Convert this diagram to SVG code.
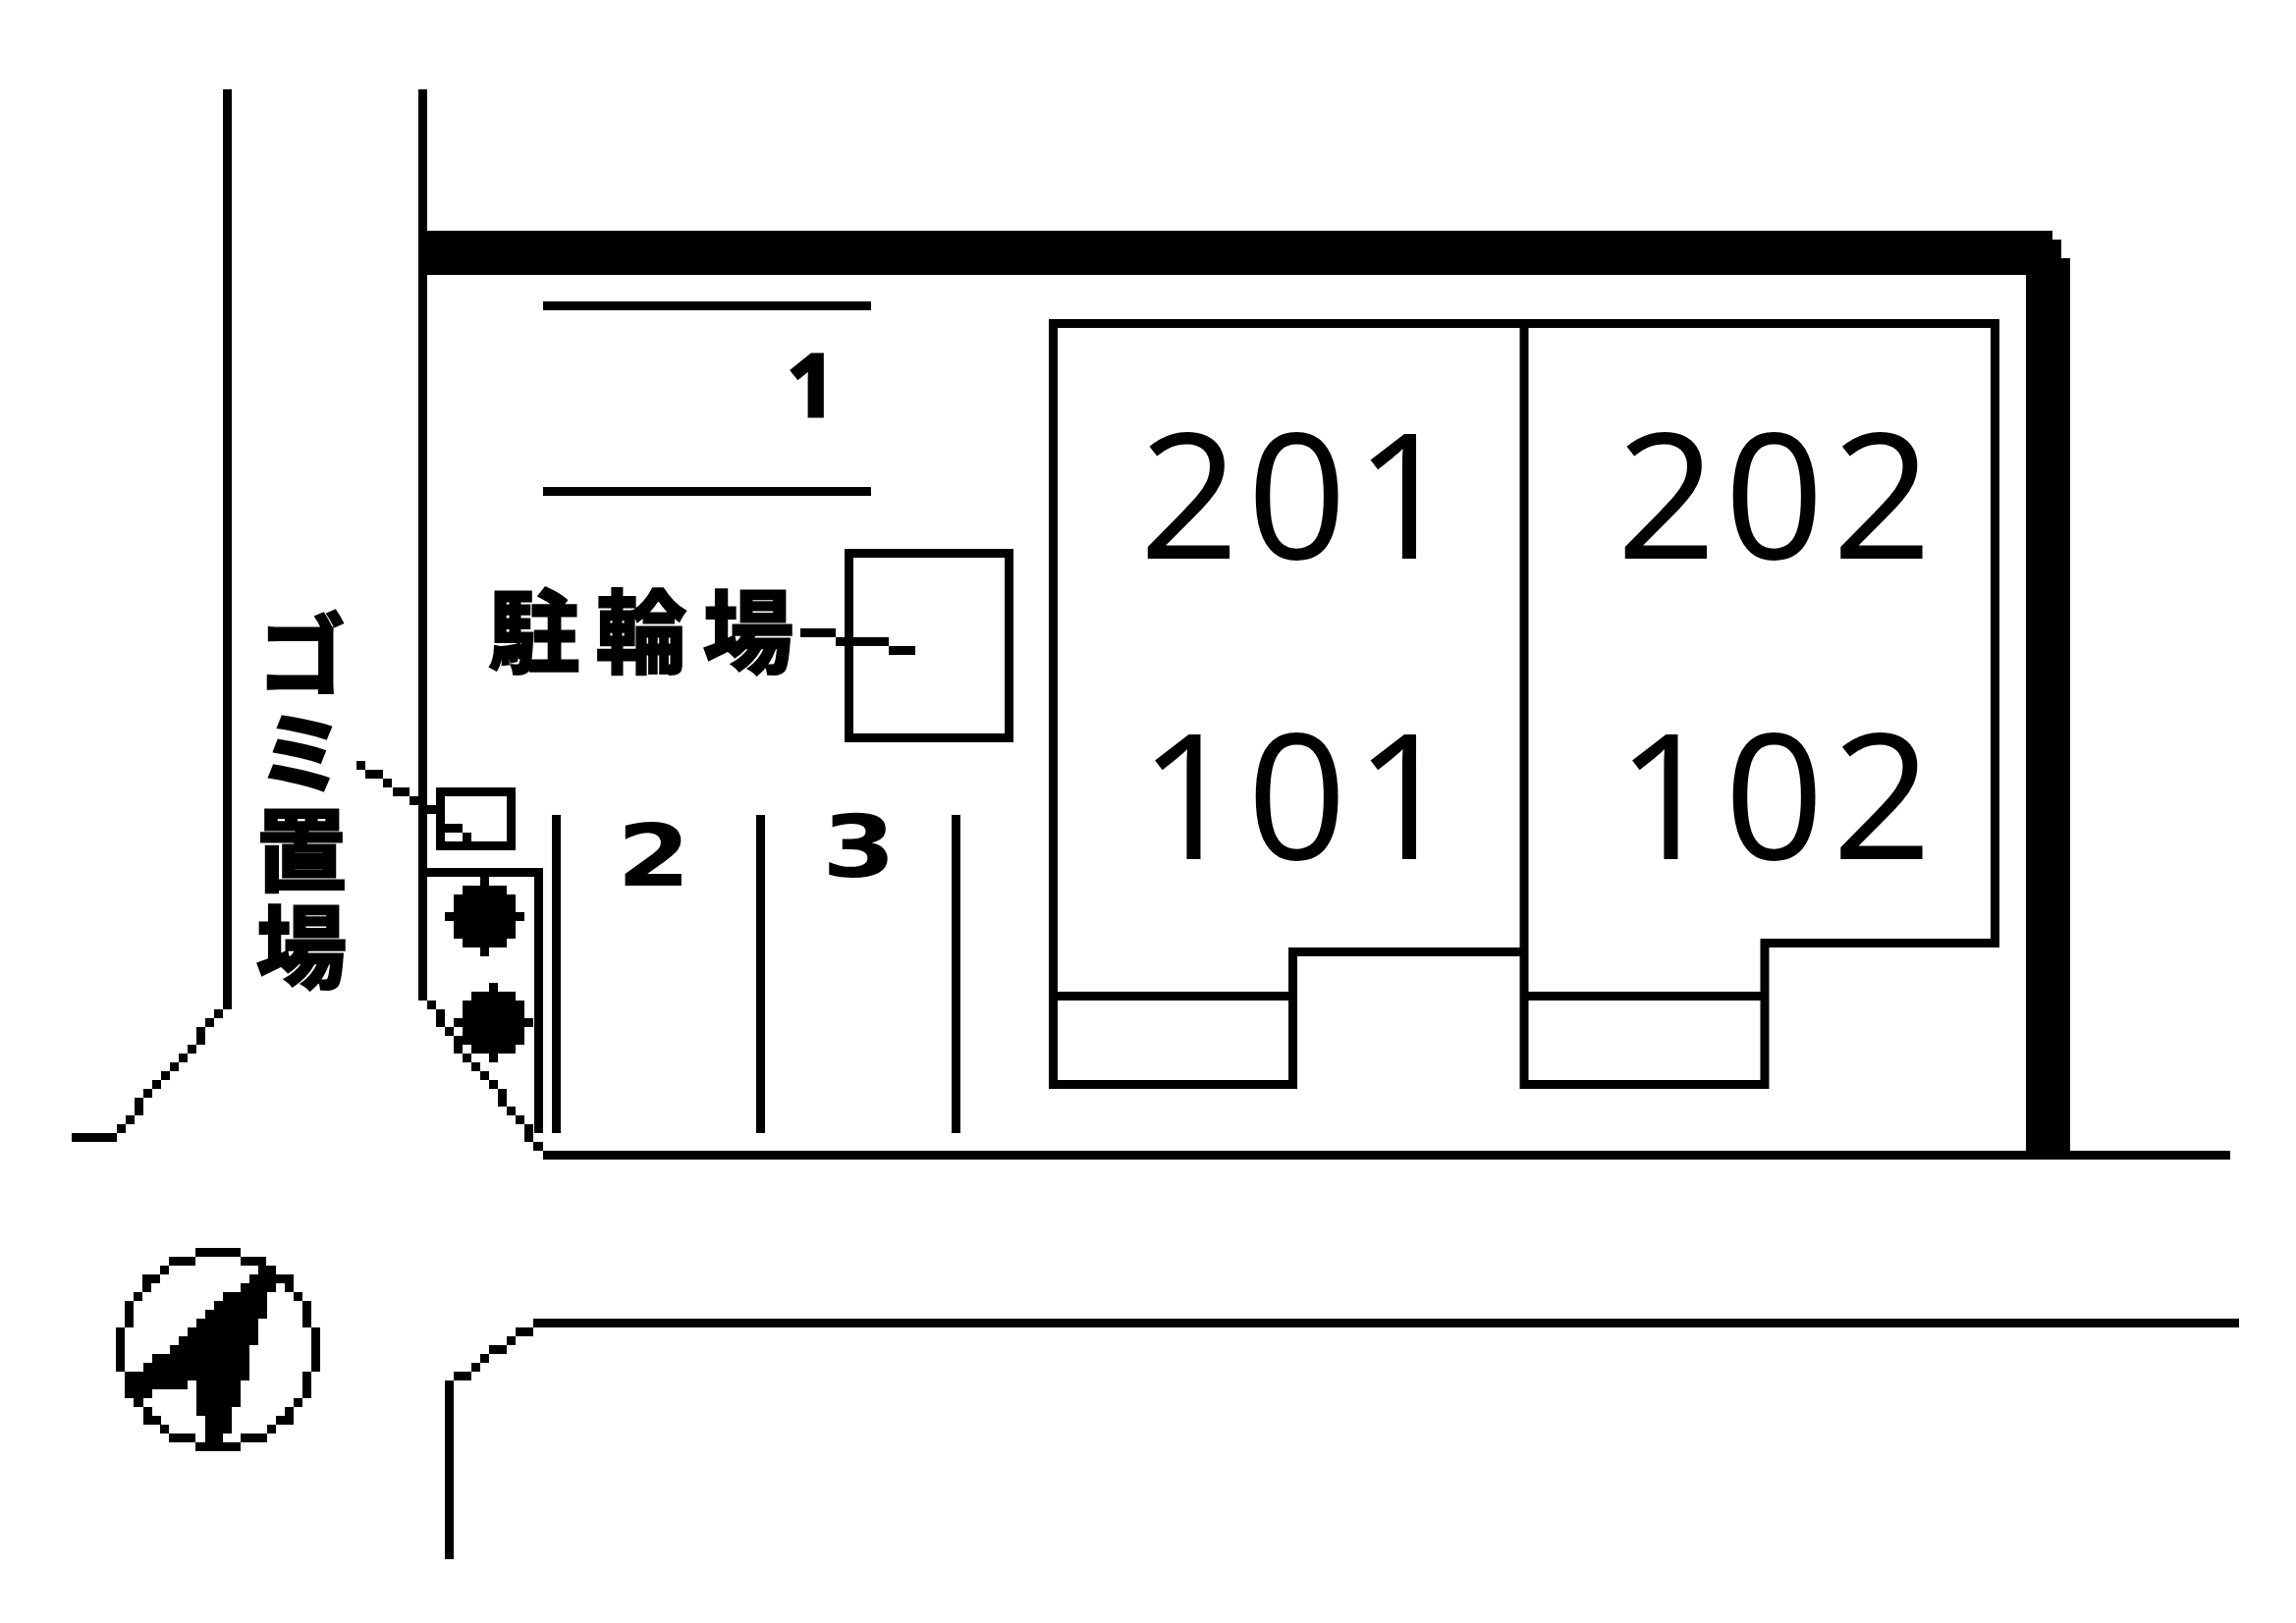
<svg xmlns="http://www.w3.org/2000/svg" width="2338" height="1653" viewBox="0 0 2338 1653">
<style>
.l{fill:none;stroke:#000;stroke-width:9}
.b{fill:#000}
.big{font-family:"Open Sans",sans-serif;font-size:178px;letter-spacing:8px;fill:#000}
.num{font-family:"DejaVu Sans",sans-serif;font-weight:bold;font-size:88px;fill:#000}
.one{font-family:"Open Sans",sans-serif;font-weight:bold;font-size:88px;fill:#000;stroke:#000;stroke-width:3}
.jp{font-family:"Noto Sans CJK JP",sans-serif;font-weight:bold;font-size:92px;fill:#000;stroke:#000;stroke-width:3}
.v{writing-mode:vertical-rl;letter-spacing:7px}
</style>
<rect width="2338" height="1653" fill="#fff"/>
<g id="roads">
<path class="b" d="M227 91h9v937h-9zM218 1028h9v9h-9zM209 1037h9v9h-9zM200 1046h9v18h-9zM191 1064h9v9h-9zM182 1073h9v9h-9zM173 1082h9v9h-9zM164 1091h9v9h-9zM155 1100h9v9h-9zM146 1109h9v9h-9zM137 1118h9v18h-9zM128 1136h9v9h-9zM119 1145h9v9h-9zM73 1154h46v9h-46z"/>
<path class="b" d="M426 91h9v928h-9zM435 1019h9v9h-9zM444 1028h9v18h-9zM453 1046h9v9h-9zM462 1055h9v18h-9zM471 1073h9v9h-9zM480 1082h9v9h-9zM489 1091h9v9h-9zM498 1100h9v9h-9zM507 1109h9v18h-9zM516 1127h9v9h-9zM525 1136h9v9h-9zM534 1145h9v18h-9zM543 1163h10v9h-10zM553 1172H2271v9H553z"/>
<path class="b" d="M453 1406h9v182h-9zM462 1397h18v9h-18zM480 1388h9v9h-9zM489 1379h9v9h-9zM498 1370h18v9h-18zM516 1361h9v9h-9zM525 1352h18v9h-18zM543 1343H2280v9H543z"/>
</g>
<polygon id="wall" class="b" points="426,235 2090,235 2090,244 2099,244 2099,263 2108,263 2108,1172 2063,1172 2063,280 426,280"/>
<g id="parking-1">
<path class="b" d="M553 307h334v9H553zM553 496h334v9H553z"/>
<text class="one" x="801" y="424">1</text>
</g>
<g id="parking-2">
<path class="b" d="M562 830h9v324h-9zM770 830h9v324h-9z"/>
<text class="num" transform="translate(628 902) scale(1.23 1)">2</text>
</g>
<g id="parking-3">
<path class="b" d="M969 830h9v324h-9z"/>
<text class="num" transform="translate(837 893) scale(1.23 1)">3</text>
</g>
<g id="bike-parking">
<rect class="l" x="864.500" y="563.500" width="163" height="188"/>
<text class="jp" x="498" y="678" style="letter-spacing:17px">駐輪場</text>
</g>
<g id="garbage">
<rect class="l" x="448.500" y="806.500" width="72" height="55"/>
<path class="b" d="M453 839h18v9h-18zM471 848h9v9h-9z"/>
<text class="jp v" x="307" y="621">ゴミ置場</text>
</g>
<g id="connectors">
<path class="b" d="M363 775h9v9h-9zM372 784h18v9h-18zM390 793h9v9h-9zM400 802h17v9h-17zM417 811h18v9h-18zM426 820h18v9h-18z"/>
<path class="b" d="M815 640h36v9h-36zM851 649h54v9h-54zM905 658h27v9h-27z"/>
</g>
<g id="planting">
<path class="b" d="M426 884H553V1154H544V893H426z"/>
<path class="b" d="M489 893h9v9h18v9h9v18h9v9h-9v18h-9v9h-18v9h-9v-9h-18v-9h-9v-18h-9v-9h9v-18h9v-9h18z"/>
<path class="b" d="M498 1001h9v9h18v9h9v18h9v9h-9v18h-9v9h-18v9h-9v-9h-18v-9h-9v-18h-9v-9h9v-18h9v-9h18z"/>
</g>
<g id="building-left">
<path class="l" d="M1552 329.500H1072.500V1104.500H1316.500V969.500H1552"/>
<path class="l" d="M1072.500 1014.500H1316.500"/>
<text class="big" x="1160" y="569">201</text>
<text class="big" x="1160" y="875">101</text>
</g>
<g id="building-right">
<path class="l" d="M1552 329.500H2031.500V960.500H1797V1104.500H1552V329.500"/>
<path class="l" d="M1552 1014.500H1797"/>
<text class="big" x="1646" y="569">202</text>
<text class="big" x="1646" y="875">102</text>
</g>
<g id="compass">
<path class="b" d="M199 1271h46v9h-46zM172 1280h27v9h-27zM245 1280h26v9h-26zM163 1289h9v9h-9zM145 1298h18v9h-18zM145 1307h9v9h-9zM136 1316h9v9h-9zM127 1325h9v27h-9zM118 1352h9v45h-9zM280 1298h19v9h-19zM290 1307h9v9h-9zM299 1316h9v9h-9zM308 1325h9v27h-9zM317 1352h9v45h-9zM308 1397h9v27h-9zM299 1424h9v9h-9zM290 1433h9v18h-9zM281 1442h9v9h-9zM272 1451h9v9h-9zM245 1460h27v9h-27zM199 1469h46v9h-46zM172 1460h27v9h-27zM163 1451h9v9h-9zM146 1442h18v9h-18zM146 1433h9v9h-9zM136 1424h10v9h-10z"/>
<polygon class="b" points="263,1289 281,1289 281,1316 272,1316 272,1343 263,1343 263,1370 254,1370 254,1406 245,1406 245,1433 236,1433 236,1460 227,1460 227,1469 209,1469 209,1442 200,1442 200,1406 191,1406 191,1415 155,1415 155,1424 127,1424 127,1397 146,1397 146,1388 155,1388 155,1379 173,1379 173,1370 182,1370 182,1361 191,1361 191,1352 200,1352 200,1343 209,1343 209,1334 218,1334 218,1325 227,1325 227,1316 245,1316 245,1307 254,1307 254,1298 263,1298"/>
</g>
</svg>
